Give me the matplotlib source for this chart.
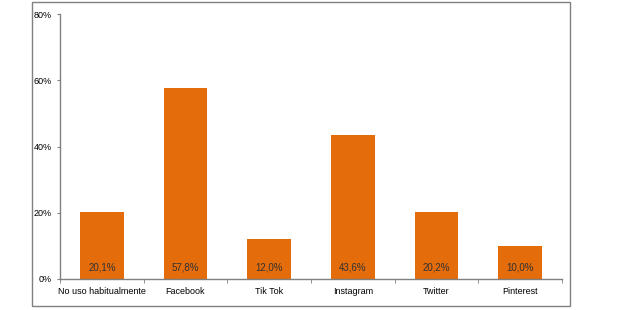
import matplotlib.pyplot as plt
from matplotlib.patches import Rectangle
from matplotlib.ticker import FixedLocator, FuncFormatter

categorias = ["No uso habitualmente", "Facebook", "Tik Tok", "Instagram", "Twitter", "Pinterest"]
valores = [20.1, 57.8, 12.0, 43.6, 20.2, 10.0]
etiquetas = ["20,1%", "57,8%", "12,0%", "43,6%", "20,2%", "10,0%"]

plt.rcParams['font.family'] = ['Liberation Sans Narrow', 'Liberation Sans', 'DejaVu Sans']

fig = plt.figure(figsize=(6.32, 3.10), dpi=100)
fig.patches.append(Rectangle((32 / 632, 4 / 310), 538 / 632, 304 / 310, transform=fig.transFigure,
                             fill=False, edgecolor='#808080', linewidth=1.0))

ax = fig.add_axes([60 / 632, 31 / 310, 502 / 632, 265 / 310])
x = range(len(categorias))
bars = ax.bar(x, valores, width=0.52, color='#E46C0A')

for i, (v, t) in enumerate(zip(valores, etiquetas)):
    ax.text(i, 3.5, t, ha='center', va='center', fontsize=7, color='#333333')

ax.set_xlim(-0.5, len(categorias) - 0.5)
ax.set_ylim(0, 80)
ax.set_yticks([0, 20, 40, 60, 80])
ax.yaxis.set_major_formatter(FuncFormatter(lambda v, p: f"{int(v)}%"))
ax.set_xticks(list(x))
ax.set_xticklabels(categorias)
ax.xaxis.set_minor_locator(FixedLocator([i - 0.5 for i in range(len(categorias) + 1)]))
ax.tick_params(axis='x', which='major', length=0, pad=6, labelsize=6.5, colors='black')
ax.tick_params(axis='x', which='minor', length=3, direction='out', color='#808080')
ax.tick_params(axis='y', length=2.5, direction='out', color='#808080', labelsize=6.5, pad=3.5)

for s in ['top', 'right']:
    ax.spines[s].set_visible(False)
for s in ['left', 'bottom']:
    ax.spines[s].set_color('#808080')
    ax.spines[s].set_linewidth(1.0)

fig.savefig("out.png", dpi=100)
